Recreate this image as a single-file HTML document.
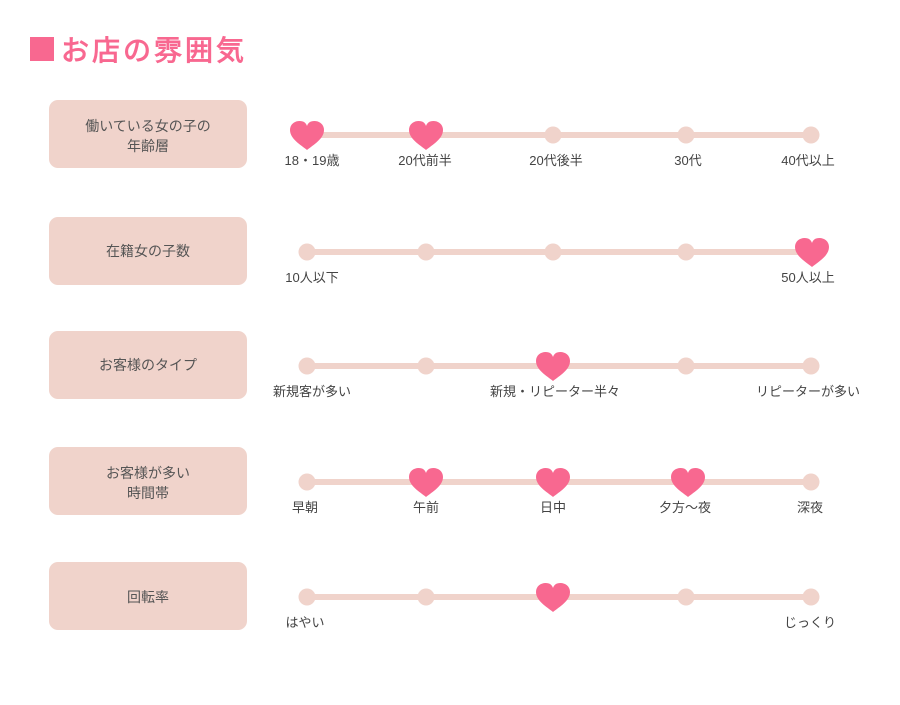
<!DOCTYPE html>
<html><head><meta charset="utf-8"><style>
body{margin:0;background:#fff;width:900px;height:700px;overflow:hidden;font-family:"Liberation Sans","Noto Sans CJK JP",sans-serif}
</style></head><body>
<svg width="900" height="700" viewBox="0 0 900 700" xmlns="http://www.w3.org/2000/svg" font-family="Liberation Sans, Noto Sans CJK JP, sans-serif">
<defs>
<path id="h" d="M0,14 C-6,9 -17,3 -17,-6 C-17,-12 -12,-15 -7.5,-15 C-3,-15 -1,-13 0,-10 C1,-13 3,-15 7.5,-15 C12,-15 17,-12 17,-6 C17,3 6,9 0,14 Z" fill="#f86890"/>
<g id="d" fill="#f0d3cb"><circle cx="307" cy="0" r="8.5"/><circle cx="426" cy="0" r="8.5"/><circle cx="553" cy="0" r="8.5"/><circle cx="686" cy="0" r="8.5"/><circle cx="811" cy="0" r="8.5"/></g>
</defs>
<rect x="30" y="37" width="24" height="24" fill="#f86890"/>
<text x="61" y="60" font-size="28" fill="#f86890" stroke="#f86890" stroke-width="0.9" letter-spacing="3">お店の雰囲気</text>
<g fill="#f0d3cb">
<rect x="49" y="100" width="198" height="68" rx="9"/>
<rect x="49" y="217" width="198" height="68" rx="9"/>
<rect x="49" y="331" width="198" height="68" rx="9"/>
<rect x="49" y="447" width="198" height="68" rx="9"/>
<rect x="49" y="562" width="198" height="68" rx="9"/>
</g>
<g font-size="14" fill="#555" text-anchor="middle">
<text x="148" y="131">働いている女の子の</text><text x="148" y="151">年齢層</text>
<text x="148" y="256">在籍女の子数</text>
<text x="148" y="370">お客様のタイプ</text>
<text x="148" y="478">お客様が多い</text><text x="148" y="498">時間帯</text>
<text x="148" y="602">回転率</text>
</g>
<g fill="#f0d3cb">
<rect x="307" y="132" width="504" height="6"/>
<rect x="307" y="249" width="504" height="6"/>
<rect x="307" y="363" width="504" height="6"/>
<rect x="307" y="479" width="504" height="6"/>
<rect x="307" y="594" width="504" height="6"/>
</g>
<use href="#d" y="135"/><use href="#d" y="252"/><use href="#d" y="366"/><use href="#d" y="482"/><use href="#d" y="597"/>
<use href="#h" x="307" y="136"/><use href="#h" x="426" y="136"/>
<use href="#h" x="812" y="253"/>
<use href="#h" x="553" y="367"/>
<use href="#h" x="426" y="483"/><use href="#h" x="553" y="483"/><use href="#h" x="688" y="483"/>
<use href="#h" x="553" y="598"/>
<g font-size="13" fill="#444" text-anchor="middle">
<text x="312" y="165">18・19歳</text><text x="425" y="165">20代前半</text><text x="556" y="165">20代後半</text><text x="688" y="165">30代</text><text x="808" y="165">40代以上</text>
<text x="312" y="282">10人以下</text><text x="808" y="282">50人以上</text>
<text x="312" y="396">新規客が多い</text><text x="555" y="396">新規・リピーター半々</text><text x="808" y="396">リピーターが多い</text>
<text x="305" y="512">早朝</text><text x="426" y="512">午前</text><text x="553" y="512">日中</text><text x="685" y="512">夕方〜夜</text><text x="810" y="512">深夜</text>
<text x="305" y="627">はやい</text><text x="810" y="627">じっくり</text>
</g>
</svg>
</body></html>
